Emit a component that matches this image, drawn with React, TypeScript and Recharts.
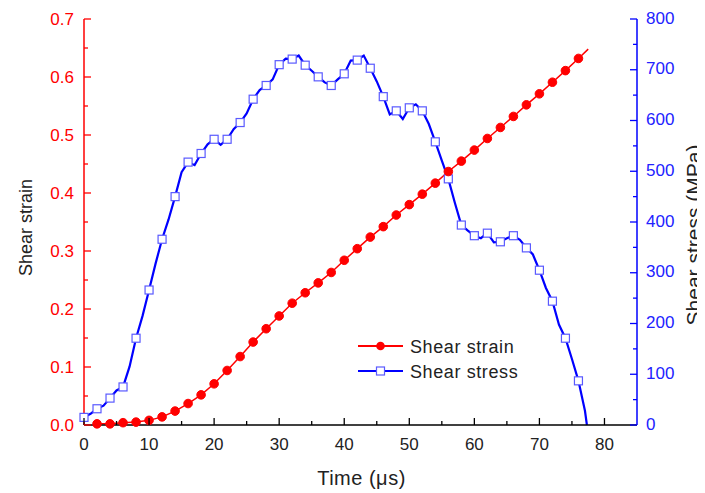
import { LineChart, Line, XAxis, YAxis, Legend } from 'recharts'

const FONT = '"Liberation Sans", Arial, sans-serif'
const RED = '#ff0000'
const BLUE = '#0000ff'

// time axis (µs)
const X_MAJOR = [0, 10, 20, 30, 40, 50, 60, 70, 80]
const X_MINOR = [5, 15, 25, 35, 45, 55, 65, 75]
// shear strain axis
const L_MAJOR = [0, 0.1, 0.2, 0.3, 0.4, 0.5, 0.6, 0.7]
const L_MINOR = [0.05, 0.15, 0.25, 0.35, 0.45, 0.55, 0.65]
// shear stress axis (MPa)
const R_MAJOR = [0, 100, 200, 300, 400, 500, 600, 700, 800]
const R_MINOR = [50, 150, 250, 350, 450, 550, 650, 750]

const strainTime = [
  1.5, 2, 4, 6, 8, 10, 12, 14, 16, 18, 20, 22, 24, 26, 28, 30, 32, 34, 36, 38, 40,
  42, 44, 46, 48, 50, 52, 54, 56, 58, 60, 62, 64, 66, 68, 70, 72, 74, 76, 77.5,
]
const strainValues = [
  0.001, 0.002, 0.002, 0.004, 0.005, 0.008, 0.014, 0.024, 0.037, 0.052, 0.071, 0.094,
  0.118, 0.143, 0.166, 0.188, 0.21, 0.228, 0.245, 0.263, 0.284, 0.304, 0.324, 0.342,
  0.362, 0.38, 0.398, 0.417, 0.437, 0.455, 0.474, 0.494, 0.513, 0.532, 0.552, 0.571,
  0.591, 0.611, 0.632, 0.648,
]

const stressTime = [
  0, 1, 2, 3, 4, 5, 6, 7, 8, 9, 10, 11, 12, 13, 14, 15, 16, 17, 18, 19, 20, 21, 22,
  23, 24, 25, 26, 27, 28, 29, 30, 31, 32, 33, 34, 35, 36, 37, 38, 39, 40, 41, 42, 43,
  44, 45, 46, 47, 48, 49, 50, 51, 52, 53, 54, 55, 56, 57, 58, 59, 60, 61, 62, 63, 64,
  65, 66, 67, 68, 69, 70, 71, 72, 73, 74, 75, 76, 77, 77.3,
]
const stressValues = [
  15, 22, 32, 38, 53, 68, 75, 115, 171, 215, 266, 318, 366, 405, 450, 498, 518, 512,
  535, 553, 563, 552, 563, 583, 596, 614, 642, 660, 669, 681, 710, 722, 721, 728, 709,
  698, 686, 675, 669, 681, 692, 718, 719, 728, 703, 677, 647, 612, 619, 603, 625, 632,
  619, 593, 558, 521, 485, 438, 394, 383, 373, 368, 378, 360, 361, 368, 373, 365, 349,
  336, 305, 270, 244, 198, 171, 130, 87, 28, 0,
]

const strainData = strainTime.map((t, i) => ({ t, strain: strainValues[i] }))
const stressData = stressTime.map((t, i) => ({ t, stress: stressValues[i] }))

function XTick(props: any) {
  const { x, y, payload, top } = props
  const v = payload.value
  const major = X_MAJOR.includes(v)
  const len = major ? 7 : 4
  return (
    <g>
      <line x1={x} x2={x} y1={y} y2={top ? y + len : y - len} stroke="#000" strokeWidth={1.3} />
      {!top && major && (
        <text x={x} y={y + 25} textAnchor="middle" fill="#222" fontSize={17} fontFamily={FONT}>
          {v}
        </text>
      )}
    </g>
  )
}

function LeftTick(props: any) {
  const { x, y, payload } = props
  const v = payload.value
  const major = L_MAJOR.some((m) => Math.abs(m - v) < 1e-6)
  return (
    <g>
      <line x1={x} x2={x + (major ? 7 : 4)} y1={y} y2={y} stroke={RED} strokeWidth={1.3} />
      {major && (
        <text x={x - 10} y={y + 6} textAnchor="end" fill={RED} fontSize={17} fontFamily={FONT}>
          {v.toFixed(1)}
        </text>
      )}
    </g>
  )
}

function RightTick(props: any) {
  const { x, y, payload } = props
  const v = payload.value
  const major = R_MAJOR.includes(v)
  return (
    <g>
      <line x1={x} x2={x - (major ? 7 : 4)} y1={y} y2={y} stroke={BLUE} strokeWidth={1.3} />
      {major && (
        <text x={x + 9} y={y + 4.5} textAnchor="start" fill="#2222ff" fontSize={17} fontFamily={FONT}>
          {v}
        </text>
      )}
    </g>
  )
}

function StrainDot(props: any) {
  const { cx, cy, index } = props
  if (index === 0 || index === strainData.length - 1) return <g key={`sd-${index}`} />
  return <circle key={`sd-${index}`} cx={cx} cy={cy} r={4.3} fill={RED} stroke={RED} />
}

function StressDot(props: any) {
  const { cx, cy, index, payload } = props
  const t = payload.t
  if (!Number.isInteger(t) || t % 2 !== 0 || t > 76) return <g key={`st-${index}`} />
  return (
    <rect key={`st-${index}`} x={cx - 4} y={cy - 4} width={8} height={8} fill="#fff" stroke="#5a5aff" strokeWidth={1.2} />
  )
}

function LegendBox() {
  const rows = [
    { name: 'Shear strain', color: RED, marker: 'circle' },
    { name: 'Shear stress', color: BLUE, marker: 'square' },
  ]
  return (
    <svg width={200} height={52}>
      {rows.map((r, i) => {
        const cy = 13 + i * 25
        return (
          <g key={r.name}>
            <line x1={0} x2={45} y1={cy} y2={cy} stroke={r.color} strokeWidth={2} />
            {r.marker === 'circle' ? (
              <circle cx={22.5} cy={cy} r={4.3} fill={RED} />
            ) : (
              <rect x={18.5} y={cy - 4} width={8} height={8} fill="#fff" stroke="#5a5aff" strokeWidth={1.2} />
            )}
            <text x={52} y={cy + 6.5} fontSize={18} fill="#222" fontFamily={FONT} letterSpacing={0.6}>
              {r.name}
            </text>
          </g>
        )
      })}
    </svg>
  )
}

export default function App() {
  return (
    <LineChart width={697} height={485} margin={{ top: 11, right: 0, bottom: 0, left: 0 }}>
      <XAxis
        xAxisId="bottom"
        dataKey="t"
        type="number"
        domain={[0, 85]}
        ticks={[...X_MAJOR, ...X_MINOR]}
        interval={0}
        height={68}
        tickSize={0}
        tickMargin={0}
        tickLine={false}
        tick={<XTick />}
        axisLine={{ stroke: '#000', strokeWidth: 1.5 }}
        label={{
          content: (p: any) => (
            <text
              x={p.viewBox.x + p.viewBox.width / 2 + 1}
              y={p.viewBox.y + 60}
              textAnchor="middle"
              fontSize={20}
              fill="#222"
              fontFamily={FONT}
              letterSpacing={0.5}
            >
              Time (μs)
            </text>
          ),
        }}
      />
      <XAxis
        xAxisId="top"
        orientation="top"
        dataKey="t"
        type="number"
        domain={[0, 85]}
        ticks={[...X_MAJOR, ...X_MINOR]}
        interval={0}
        height={0}
        tickSize={0}
        tickMargin={0}
        tickLine={false}
        tick={<XTick top />}
        axisLine={{ stroke: '#000', strokeWidth: 1.5 }}
      />
      <YAxis
        yAxisId="left"
        type="number"
        domain={[0, 0.7]}
        ticks={[...L_MAJOR, ...L_MINOR]}
        interval={0}
        width={76}
        tickSize={0}
        tickMargin={0}
        tickLine={false}
        tick={<LeftTick />}
        axisLine={{ stroke: RED, strokeWidth: 1.5 }}
        label={{
          content: (p: any) => {
            const x = p.viewBox.x + 24
            const y = p.viewBox.y + p.viewBox.height / 2 + 5.5
            return (
              <text
                x={x}
                y={y}
                transform={`rotate(-90 ${x} ${y})`}
                textAnchor="middle"
                fontSize={18}
                fill="#222"
                fontFamily={FONT}
              >
                Shear strain
              </text>
            )
          },
        }}
      />
      <YAxis
        yAxisId="right"
        orientation="right"
        type="number"
        domain={[0, 800]}
        ticks={[...R_MAJOR, ...R_MINOR]}
        interval={0}
        width={68}
        tickSize={0}
        tickMargin={0}
        tickLine={false}
        tick={<RightTick />}
        axisLine={{ stroke: BLUE, strokeWidth: 1.5 }}
        label={{
          content: (p: any) => {
            const x = p.viewBox.x + 63.8
            const y = p.viewBox.y + p.viewBox.height / 2 + 13
            return (
              <text
                x={x}
                y={y}
                transform={`rotate(-90 ${x} ${y})`}
                textAnchor="middle"
                fontSize={21}
                fill="#222"
                fontFamily={FONT}
              >
                Shear stress (MPa)
              </text>
            )
          },
        }}
      />
      <Line
        xAxisId="bottom"
        yAxisId="right"
        data={stressData}
        dataKey="stress"
        stroke={BLUE}
        strokeWidth={2.2}
        dot={StressDot}
        activeDot={false}
        isAnimationActive={false}
      />
      <Line
        xAxisId="bottom"
        yAxisId="left"
        data={strainData}
        dataKey="strain"
        stroke={RED}
        strokeWidth={1.5}
        dot={StrainDot}
        activeDot={false}
        isAnimationActive={false}
      />
      <Legend
        layout="vertical"
        align="center"
        verticalAlign="middle"
        wrapperStyle={{ left: 350, top: 325, width: 200 }}
        content={() => <LegendBox />}
      />
    </LineChart>
  )
}
